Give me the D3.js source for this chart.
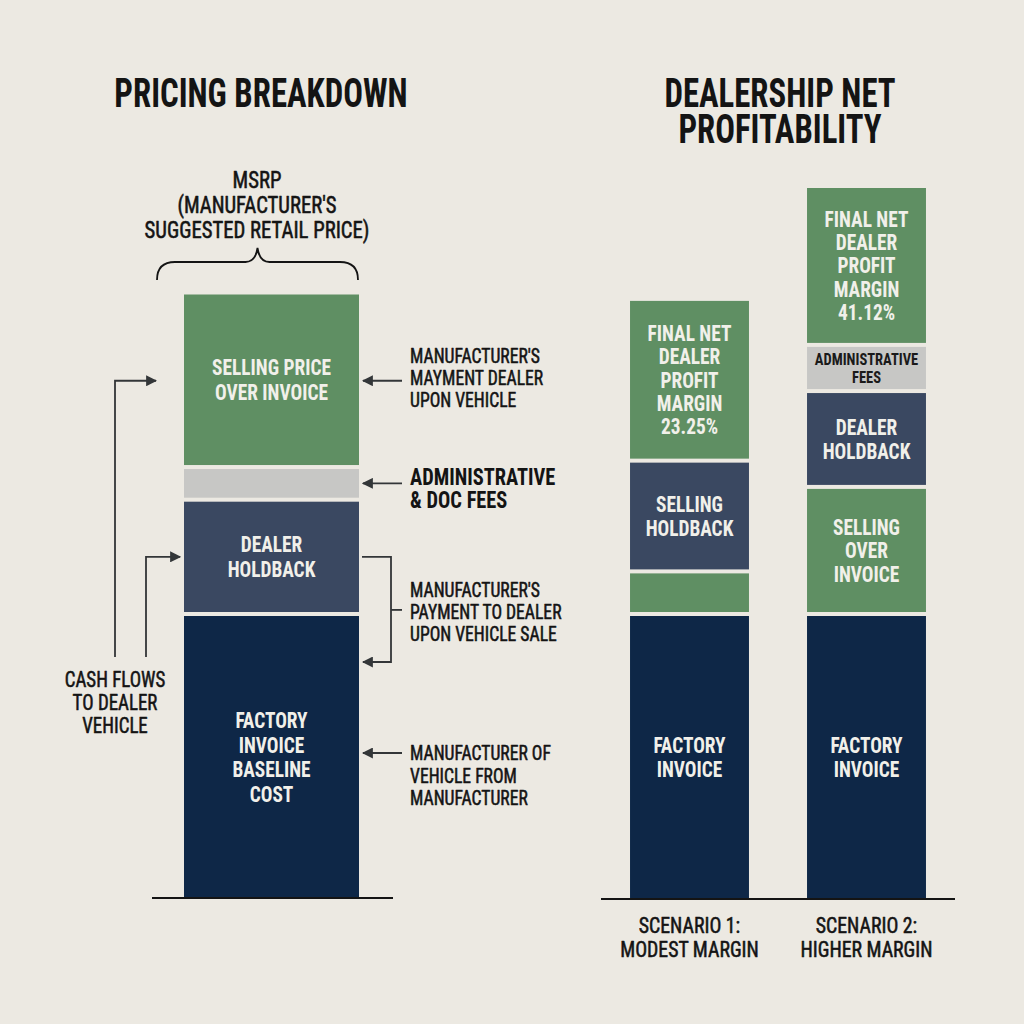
<!DOCTYPE html>
<html>
<head>
<meta charset="utf-8">
<script src="https://cdn.jsdelivr.net/npm/d3@7/dist/d3.min.js"></script>
<style>
  html,body{margin:0;padding:0;background:#ece9e2;}
  svg{display:block;}
  text{font-family:"Liberation Sans Narrow","Roboto Condensed","DejaVu Sans Condensed",sans-serif;}
</style>
</head>
<body>
<svg id="chart" width="1024" height="1024"></svg>
<script>
// ---------------- DATA ----------------
const leftTitle = ["PRICING BREAKDOWN"];
const rightTitle = ["DEALERSHIP NET", "PROFITABILITY"];
const msrpLabel = ["MSRP", "(MANUFACTURER'S", "SUGGESTED RETAIL PRICE)"];

const leftCategory = ["MSRP"];
const leftSegments = ["FACTORY INVOICE BASELINE COST", "DEALER HOLDBACK", "ADMINISTRATIVE & DOC FEES", "SELLING PRICE OVER INVOICE"];
const leftValues = [40, 16.1, 4.6, 24.3];
const leftKinds = ["navy", "slate", "gray", "green"];
const leftLabels = [["FACTORY", "INVOICE", "BASELINE", "COST"], ["DEALER", "HOLDBACK"], [], ["SELLING PRICE", "OVER INVOICE"]];

const annotSelling = ["MANUFACTURER'S", "MAYMENT DEALER", "UPON VEHICLE"];
const annotAdmin = ["ADMINISTRATIVE", "& DOC FEES"];
const annotHoldback = ["MANUFACTURER'S", "PAYMENT TO DEALER", "UPON VEHICLE SALE"];
const annotFactory = ["MANUFACTURER OF", "VEHICLE FROM", "MANUFACTURER"];
const cashFlowLabel = ["CASH FLOWS", "TO DEALER", "VEHICLE"];

const scenarios = ["Scenario 1", "Scenario 2"];
const scenarioLabels = [["SCENARIO 1:", "MODEST MARGIN"], ["SCENARIO 2:", "HIGHER MARGIN"]];

const scenario1Segments = ["FACTORY INVOICE", "SELLING OVER INVOICE", "SELLING HOLDBACK", "FINAL NET DEALER PROFIT MARGIN"];
const scenario1Values = [40, 6.0, 15.6, 22.5];
const scenario1Kinds = ["navy", "green", "slate", "green"];
const scenario1Labels = [["FACTORY", "INVOICE"], [], ["SELLING", "HOLDBACK"], ["FINAL NET", "DEALER", "PROFIT", "MARGIN", "23.25%"]];

const scenario2Segments = ["FACTORY INVOICE", "SELLING OVER INVOICE", "DEALER HOLDBACK", "ADMINISTRATIVE FEES", "FINAL NET DEALER PROFIT MARGIN"];
const scenario2Values = [40, 17.9, 13.5, 6.5, 22.1];
const scenario2Kinds = ["navy", "green", "slate", "gray", "green"];
const scenario2Labels = [["FACTORY", "INVOICE"], ["SELLING", "OVER", "INVOICE"], ["DEALER", "HOLDBACK"], ["ADMINISTRATIVE", "FEES"], ["FINAL NET", "DEALER", "PROFIT", "MARGIN", "41.12%"]];

// ---------------- STYLE ----------------
const colors = {navy: "#0e2747", slate: "#3a4861", gray: "#c7c7c5", green: "#5f8f63"};
const textOn = {navy: "#f1f0ea", slate: "#f1f0ea", gray: "#1a1a1a", green: "#f1f0ea"};
const BG = "#ece9e2";
const INK = "#141414";
const LINE = "#333638";
const SX = 0.88;
const CAP = 0.716;

const svg = d3.select("#chart");
svg.append("rect").attr("width", 1024).attr("height", 1024).attr("fill", BG);

const defs = svg.append("defs");
defs.append("marker").attr("id", "arr").attr("viewBox", "0 0 10 10")
  .attr("refX", 9).attr("refY", 5).attr("markerWidth", 11).attr("markerHeight", 11)
  .attr("markerUnits", "userSpaceOnUse").attr("orient", "auto")
  .append("path").attr("d", "M0,0 L10,5 L0,10 Z").attr("fill", LINE);

// y scale shared by both panels
const y = d3.scaleLinear().domain([0, 100]).range([898, 188]);

// text helper
function textLines(g, lines, x, firstBaseline, size, lh, opts = {}) {
  lines.forEach((t, i) => {
    const tx = g.append("text")
      .attr("transform", `translate(${x},${firstBaseline + i * lh}) scale(${opts.sx || SX},1)`)
      .attr("text-anchor", opts.anchor || "middle")
      .attr("font-size", size)
      .attr("font-weight", opts.weight || "normal")
      .attr("fill", opts.fill || INK)
      .text(t);
    if (opts.stroke) {
      tx.attr("stroke", opts.fill || INK).attr("stroke-width", opts.stroke).attr("stroke-linejoin", "round");
    }
  });
}
function centeredLines(g, lines, x, yc, size, lh, opts) {
  const c = size * CAP;
  const first = yc + c / 2 - (lines.length - 1) * lh / 2;
  textLines(g, lines, x, first, size, lh, opts);
}

function stack(values) {
  let acc = 0;
  return values.map(v => { const s = {y0: acc, y1: acc + v}; acc += v; return s; });
}

const GAP = 2;
function drawStack(g, x0, w, values, kinds, labels, size, lh) {
  const st = stack(values);
  st.forEach((s, i) => {
    const top = y(s.y1) + (i === st.length - 1 ? 0 : GAP);
    const bot = y(s.y0) - (i === 0 ? 0 : GAP);
    g.append("rect").attr("x", x0).attr("y", top).attr("width", w).attr("height", bot - top)
      .attr("fill", colors[kinds[i]]);
    if (labels[i] && labels[i].length) {
      const isSmall = kinds[i] === "gray";
      centeredLines(g, labels[i], x0 + w / 2, (top + bot) / 2, isSmall ? 16.5 : size, isSmall ? 18 : lh,
        {fill: textOn[kinds[i]], weight: "bold", sx: isSmall ? 0.88 : SX});
    }
  });
  return st;
}

const MED = {stroke: 0.55};

// ---------------- LEFT PANEL ----------------
const xL = d3.scaleBand().domain(leftCategory).range([184, 359]).padding(0);
const gL = svg.append("g");
const bw = xL.bandwidth();
const bx = xL("MSRP");

textLines(gL, leftTitle, 261, 107, 40, 40, {weight: "bold", sx: 0.82});

// MSRP label + brace
textLines(gL, msrpLabel, 257, 188, 23, 25, {sx: 0.9, ...MED});
const bL = bx - 27, bR = bx + bw - 1, bMid = (bL + bR) / 2, bTop = 248, bH = 262, bBot = 280;
gL.append("path")
  .attr("d", `M${bL},${bBot} Q${bL},${bH} ${bL + 18},${bH} L${bMid - 12},${bH} Q${bMid - 2},${bH} ${bMid},${bTop}
              Q${bMid + 2},${bH} ${bMid + 12},${bH} L${bR - 18},${bH} Q${bR},${bH} ${bR},${bBot}`)
  .attr("fill", "none").attr("stroke", INK).attr("stroke-width", 1.8);

const stL = drawStack(gL, bx, bw, leftValues, leftKinds, leftLabels, 22, 24.5);

// baseline
gL.append("line").attr("x1", bx - 32).attr("x2", bx + bw + 34).attr("y1", y(0)).attr("y2", y(0))
  .attr("stroke", INK).attr("stroke-width", 2);

const mid = i => (y(stL[i].y0) + y(stL[i].y1)) / 2;
const rEdge = bx + bw;
function arrowLeft(yy) {
  gL.append("line").attr("x1", rEdge + 43).attr("x2", rEdge + 4).attr("y1", yy).attr("y2", yy)
    .attr("stroke", LINE).attr("stroke-width", 1.8).attr("marker-end", "url(#arr)");
}
// selling price annotation
arrowLeft(mid(3));
textLines(gL, annotSelling, rEdge + 51, 363, 20.5, 22, {anchor: "start", sx: 0.86, ...MED});
// admin annotation
arrowLeft(mid(2));
textLines(gL, annotAdmin, rEdge + 51, 485, 24, 23, {anchor: "start", weight: "bold", sx: 0.85});
// holdback bracket
const hbY = mid(1);
const brY2 = y(stL[0].y1) + 48;
gL.append("path")
  .attr("d", `M${rEdge + 3},${hbY} L${rEdge + 32},${hbY} L${rEdge + 32},${brY2} L${rEdge + 4},${brY2}`)
  .attr("fill", "none").attr("stroke", LINE).attr("stroke-width", 1.8).attr("marker-end", "url(#arr)");
gL.append("line").attr("x1", rEdge + 32).attr("x2", rEdge + 43).attr("y1", (hbY + brY2) / 2 + 0.5).attr("y2", (hbY + brY2) / 2 + 0.5)
  .attr("stroke", LINE).attr("stroke-width", 1.8);
textLines(gL, annotHoldback, rEdge + 51, 597, 20.5, 22, {anchor: "start", sx: 0.86, ...MED});
// factory annotation
arrowLeft(mid(0) - 3);
textLines(gL, annotFactory, rEdge + 51, 760, 20.5, 22.5, {anchor: "start", sx: 0.86, ...MED});

// cash flow arrows on the left
const cfBottom = 657;
gL.append("path").attr("d", `M${bx - 69},${cfBottom} L${bx - 69},${mid(3)} L${bx - 28},${mid(3)}`)
  .attr("fill", "none").attr("stroke", LINE).attr("stroke-width", 1.8).attr("marker-end", "url(#arr)");
gL.append("path").attr("d", `M${bx - 38},${cfBottom} L${bx - 38},${mid(1)} L${bx - 4},${mid(1)}`)
  .attr("fill", "none").attr("stroke", LINE).attr("stroke-width", 1.8).attr("marker-end", "url(#arr)");
textLines(gL, cashFlowLabel, 115, 687, 22, 23, {sx: 0.86, ...MED});

// ---------------- RIGHT PANEL ----------------
const gR = svg.append("g");
textLines(gR, rightTitle, 780, 107, 40, 36, {weight: "bold", sx: 0.82});

const xR = d3.scaleBand().domain(scenarios).range([601, 955]).paddingInner(0.328).paddingOuter(0.164);
const rw = xR.bandwidth();
drawStack(gR, xR(scenarios[0]), rw, scenario1Values, scenario1Kinds, scenario1Labels, 22, 23.4);
drawStack(gR, xR(scenarios[1]), rw, scenario2Values, scenario2Kinds, scenario2Labels, 22, 23.4);

gR.append("line").attr("x1", xR.range()[0]).attr("x2", xR.range()[1]).attr("y1", y(0) + 1).attr("y2", y(0) + 1)
  .attr("stroke", INK).attr("stroke-width", 2);

scenarios.forEach((s, i) => {
  textLines(gR, scenarioLabels[i], xR(s) + rw / 2, 933, 22, 24, {sx: 0.9, ...MED});
});
</script>
</body>
</html>
